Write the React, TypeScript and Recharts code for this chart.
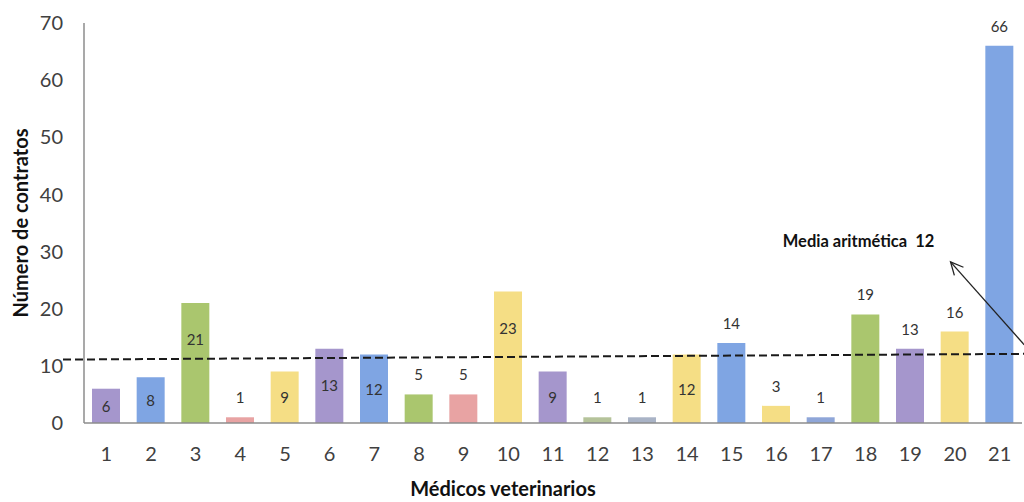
import React from "react";
import {
  BarChart,
  Bar,
  XAxis,
  YAxis,
  Cell,
  LabelList,
  ReferenceLine,
} from "recharts";

const medicos = [1, 2, 3, 4, 5, 6, 7, 8, 9, 10, 11, 12, 13, 14, 15, 16, 17, 18, 19, 20, 21];
const contratos = [6, 8, 21, 1, 9, 13, 12, 5, 5, 23, 9, 1, 1, 12, 14, 3, 1, 19, 13, 16, 66];
const colores = [
  "#a596cc", "#7fa5e3", "#aac66e", "#e8a3a3", "#f5de85",
  "#a596cc", "#7fa5e3", "#aac66e", "#e8a3a3", "#f5de85",
  "#a596cc", "#b5c39a", "#a9b3c6", "#f5de85", "#7fa5e3",
  "#f5de85", "#8fa6d8", "#aac66e", "#a596cc", "#f5de85",
  "#7fa5e3",
];
const yTicks = [0, 10, 20, 30, 40, 50, 60, 70];
const media = 12;
// dashed mean line drawn slightly tilted like the original
const mediaLinea = [
  { x: 0.03, y: 11.1 },
  { x: 21.55, y: 12.1 },
];
const flecha = [
  { x: 21.55, y: 13.7 },
  { x: 19.9, y: 28.2 },
];

const data = medicos.map((m, i) => ({ medico: m, contratos: contratos[i] }));

const FONT = "Lato, 'Open Sans', sans-serif";

function BarLabel(props: any) {
  const { x, y, width, height, value, index } = props;
  const cx = x + width / 2;
  const inside = value > 5 && index < 14;
  const cy = inside ? Math.min(y + height / 2, y + 36) : y - 20;
  return (
    <text
      x={cx}
      y={cy}
      textAnchor="middle"
      dominantBaseline="central"
      fontFamily={FONT}
      fontSize={15}
      fill="#333"
    >
      {value}
    </text>
  );
}

function Arrow(props: any) {
  const { x1, y1, x2, y2 } = props;
  const ang = Math.atan2(y1 - y2, x1 - x2);
  const len = 14;
  const spread = 0.45;
  const ax1 = x2 + len * Math.cos(ang + spread);
  const ay1 = y2 + len * Math.sin(ang + spread);
  const ax2 = x2 + len * Math.cos(ang - spread);
  const ay2 = y2 + len * Math.sin(ang - spread);
  return (
    <g>
      <line x1={x1} y1={y1} x2={x2} y2={y2} stroke="#222" strokeWidth={1.3} />
      <polyline
        points={`${ax1},${ay1} ${x2},${y2} ${ax2},${ay2}`}
        fill="none"
        stroke="#222"
        strokeWidth={1.3}
      />
      <text
        x={x2 - 92}
        y={y2 - 21}
        textAnchor="middle"
        dominantBaseline="central"
        fontFamily={FONT}
        fontSize={16.5}
        fontWeight="bold"
        fill="#111"
        style={{ whiteSpace: "pre" }}
      >
        {`Media aritmética  ${media}`}
      </text>
    </g>
  );
}

export default function App() {
  return (
    <div style={{ position: "absolute", left: 0, top: 0, background: "#fff" }}>
      <BarChart
        width={1024}
        height={502}
        data={data}
        margin={{ top: 23, right: 2, bottom: 0, left: 0 }}
      >
        <XAxis
          dataKey="medico"
          type="number"
          domain={[0.5, 21.5]}
          allowDataOverflow
          ticks={medicos}
          interval={0}
          tickLine={false}
          tickSize={6}
          tickMargin={18}
          height={79}
          axisLine={{ stroke: "#8c8c8c", strokeWidth: 1.5 }}
          tick={{ fontFamily: FONT, fontSize: 20, fill: "#404040" }}
          label={{
            value: "Médicos veterinarios",
            position: "insideBottom",
            offset: 6,
            dx: -50,
            style: { fontFamily: FONT, fontSize: 20, fontWeight: "bold", fill: "#111" },
          }}
        />
        <YAxis
          domain={[0, 70]}
          ticks={yTicks}
          width={84}
          tickLine={false}
          tickSize={6}
          tickMargin={15}
          axisLine={{ stroke: "#8c8c8c", strokeWidth: 1.5 }}
          tick={{ fontFamily: FONT, fontSize: 20, fill: "#404040" }}
          label={{
            value: "Número de contratos",
            angle: -90,
            position: "insideLeft",
            offset: 21,
            style: {
              textAnchor: "middle",
              fontFamily: FONT,
              fontSize: 20,
              fontWeight: "bold",
              fill: "#111",
            },
          }}
        />
        <Bar dataKey="contratos" barSize={28} isAnimationActive={false}>
          {data.map((d, i) => (
            <Cell key={d.medico} fill={colores[i]} />
          ))}
          <LabelList dataKey="contratos" content={<BarLabel />} />
        </Bar>
        <ReferenceLine
          segment={mediaLinea}
          ifOverflow="visible"
          stroke="#1a1a1a"
          strokeWidth={2}
          strokeDasharray="8 4"
        />
        <ReferenceLine segment={flecha} ifOverflow="visible" shape={<Arrow />} />
      </BarChart>
    </div>
  );
}
